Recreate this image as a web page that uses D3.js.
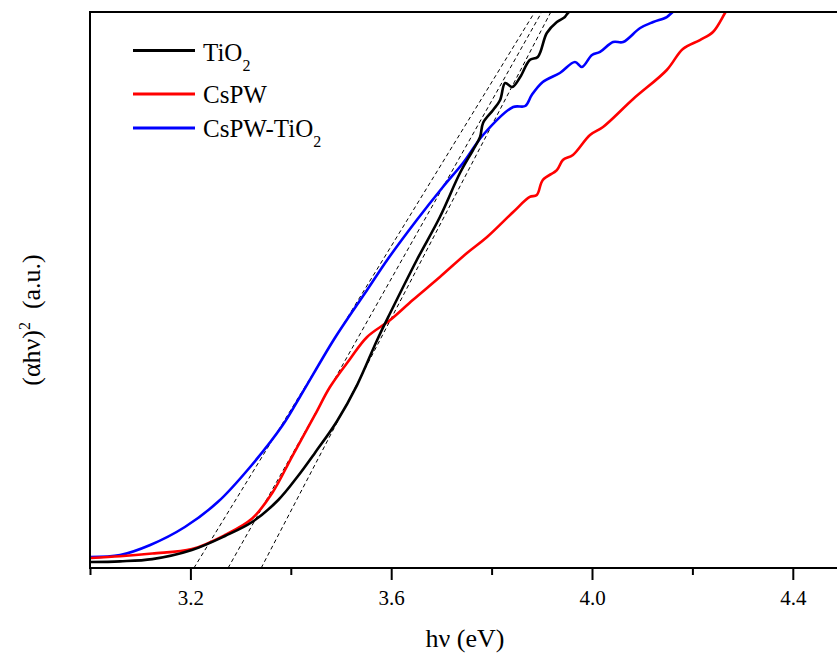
<!DOCTYPE html>
<html>
<head>
<meta charset="utf-8">
<script src="https://cdn.jsdelivr.net/npm/d3@7/dist/d3.min.js"></script>
<style>
  html, body { margin: 0; padding: 0; background: #fff; }
  svg { display: block; }
</style>
</head>
<body>
<svg id="chart" width="837" height="653"></svg>
<script>
// ---- data (photon energy in eV, (αhν)^2 in arbitrary units 0–100) ----
const tio2X = [3.002,3.060,3.124,3.203,3.269,3.323,3.375,3.414,3.448,3.492,3.532,3.572,3.598,3.651,3.697,3.737,3.763,3.777,3.783,3.803,3.817,3.827,3.841,3.857,3.876,3.892,3.910,3.930,3.946,3.952,3.966];
const tio2Y = [1.08,1.20,1.60,3.24,5.76,8.27,12.23,16.50,20.70,26.40,32.90,41.01,45.86,55.40,63.13,71.04,75.18,77.52,80.04,82.37,84.17,87.23,86.51,88.31,91.37,91.91,96.22,98.20,99.10,99.82,100.7];

const cspwX = [3.002,3.060,3.124,3.203,3.269,3.323,3.363,3.402,3.448,3.478,3.518,3.552,3.598,3.643,3.697,3.751,3.791,3.843,3.876,3.890,3.902,3.930,3.942,3.962,3.996,4.022,4.082,4.149,4.181,4.215,4.241,4.265,4.275];
const cspwY = [1.80,2.10,2.60,3.40,5.94,8.90,13.49,19.96,27.52,32.55,37.59,41.55,44.60,48.20,52.34,56.65,59.53,64.03,66.73,67.09,69.78,71.58,73.38,74.28,77.88,79.32,84.35,89.57,93.35,94.96,96.40,99.82,101.3];

const cspwTiO2X = [3.000,3.060,3.120,3.189,3.255,3.319,3.384,3.418,3.484,3.518,3.552,3.592,3.651,3.703,3.743,3.783,3.843,3.867,3.880,3.902,3.936,3.966,3.980,4.000,4.016,4.042,4.062,4.096,4.122,4.149,4.161,4.185];
const cspwTiO2Y = [1.98,2.34,4.14,7.37,11.90,18.17,25.72,30.76,40.83,45.50,50.00,55.40,62.59,68.53,72.84,77.88,82.91,83.09,85.07,87.41,89.03,91.01,90.11,92.27,92.81,94.60,94.60,97.12,98.20,99.10,100.0,101.3];

// Tauc tangent lines: x-intercept (eV) and eV where the line reaches the top of the frame
const tangentStart = [3.207, 3.275, 3.341];
const tangentEnd   = [3.886, 3.900, 3.918];

const seriesNames  = ["TiO", "CsPW", "CsPW-TiO"];
const seriesSubs   = ["2", "", "2"];
const seriesColors = ["#000000", "#ff0000", "#0000ff"];

const majorTicks = [3.2, 3.6, 4.0, 4.4];
const minorTicks = [3.0, 3.4, 3.8, 4.2];

// ---- layout ----
const FONT = "'Liberation Serif', 'Times New Roman', Tinos, Times, 'DejaVu Serif', serif";
const svg = d3.select("#chart");
const pL = 90, pR = 843, pT = 12, pB = 568;
const x = d3.scaleLinear().domain([3.0, 4.5]).range([pL, pR]);
const y = d3.scaleLinear().domain([0, 100]).range([pB, pT]);

svg.append("rect").attr("width", 837).attr("height", 653).attr("fill", "#fff");

svg.append("defs").append("clipPath").attr("id", "plotclip")
  .append("rect").attr("x", pL).attr("y", pT).attr("width", pR - pL).attr("height", pB - pT);

const plot = svg.append("g").attr("clip-path", "url(#plotclip)");

// tangent lines
const tangents = tangentStart.map((s, i) => [[s, 0], [tangentEnd[i], 100]]);
const line = d3.line().x(d => x(d[0])).y(d => y(d[1]));
plot.selectAll(".tangent").data(tangents).enter().append("path")
  .attr("class", "tangent")
  .attr("d", line)
  .attr("fill", "none")
  .attr("stroke", "#000")
  .attr("stroke-width", 1)
  .attr("stroke-dasharray", "4,3");

// curves
const series = [
  d3.zip(tio2X, tio2Y),
  d3.zip(cspwX, cspwY),
  d3.zip(cspwTiO2X, cspwTiO2Y)
];
const drawOrder = [2, 1, 0];
drawOrder.forEach(i => {
  plot.append("path")
    .datum(series[i])
    .attr("d", d3.line().x(d => x(d[0])).y(d => y(d[1])).curve(d3.curveCatmullRom.alpha(0.5)))
    .attr("fill", "none")
    .attr("stroke", seriesColors[i])
    .attr("stroke-width", 2.6)
    .attr("stroke-linejoin", "round");
});

// axes frame
svg.append("line").attr("x1", pL).attr("x2", pL).attr("y1", pT - 1).attr("y2", pB + 1)
  .attr("stroke", "#000").attr("stroke-width", 2);
svg.append("line").attr("x1", pL - 1).attr("x2", 837).attr("y1", pT).attr("y2", pT)
  .attr("stroke", "#000").attr("stroke-width", 2);

// bottom axis via d3
const xAxisMajor = d3.axisBottom(x).tickValues(majorTicks).tickSize(12).tickPadding(10)
  .tickFormat(d3.format(".1f"));
const gx = svg.append("g").attr("transform", `translate(0,${pB})`).call(xAxisMajor);
gx.attr("font-family", null).attr("font-size", null);
gx.select(".domain").attr("d", `M${pL - 1},0H837`).attr("stroke-width", 2);
gx.selectAll(".tick line").attr("stroke-width", 2);
gx.selectAll(".tick text").style("font-family", FONT).style("font-size", "21px").attr("fill", "#000");

const xAxisMinor = d3.axisBottom(x).tickValues(minorTicks).tickSize(7).tickFormat("");
const gxm = svg.append("g").attr("transform", `translate(0,${pB})`).call(xAxisMinor);
gxm.select(".domain").remove();
gxm.selectAll(".tick line").attr("stroke-width", 2);

// axis titles
svg.append("text")
  .attr("x", 465).attr("y", 647)
  .attr("text-anchor", "middle")
  .style("font-family", FONT)
  .style("font-size", "26px")
  .text("hν (eV)");

const yl = svg.append("text")
  .attr("transform", "translate(40,320) rotate(-90)")
  .attr("text-anchor", "middle")
  .style("font-family", FONT)
  .style("font-size", "26px");
yl.append("tspan").text("(αhν)");
yl.append("tspan").attr("dy", -10).style("font-size", "16px").text("2");
yl.append("tspan").attr("dy", 10).text("\u00a0\u00a0(a.u.)");

// legend
const legendLineY = [50.5, 94, 128];
const legendTextY = [61, 103, 137];
seriesNames.forEach((name, i) => {
  svg.append("line")
    .attr("x1", 133).attr("x2", 195)
    .attr("y1", legendLineY[i]).attr("y2", legendLineY[i])
    .attr("stroke", seriesColors[i]).attr("stroke-width", 3);
  const t = svg.append("text")
    .attr("x", 203).attr("y", legendTextY[i])
    .style("font-family", FONT)
    .style("font-size", "25px");
  t.append("tspan").text(name);
  if (seriesSubs[i]) {
    t.append("tspan").attr("dy", 10).style("font-size", "16px").text(seriesSubs[i]);
  }
});
</script>
</body>
</html>
